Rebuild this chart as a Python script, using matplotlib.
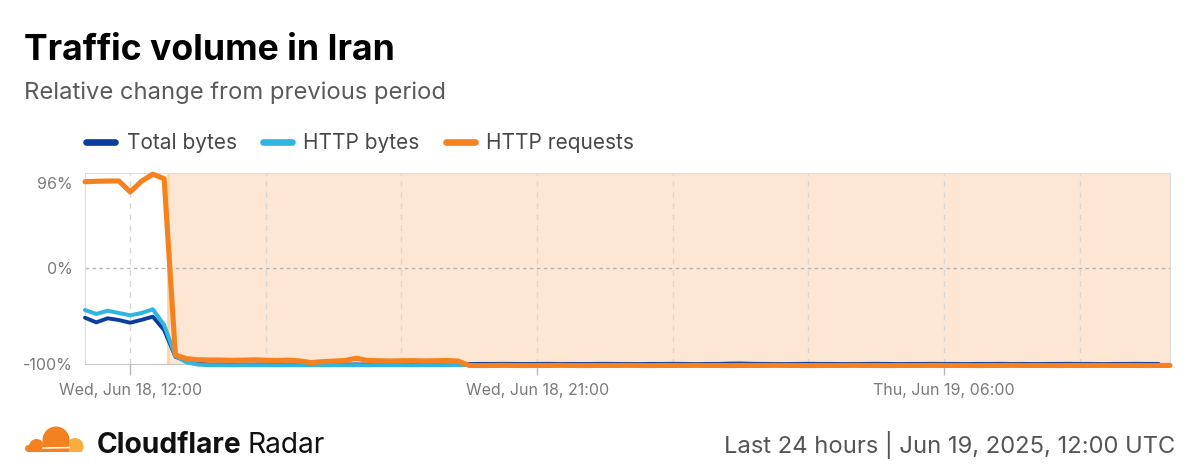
import numpy as np
import pandas as pd
import matplotlib
matplotlib.use('Agg')
import matplotlib.pyplot as plt
import matplotlib.dates as mdates
from matplotlib.patches import Circle, Rectangle

plt.rcParams['font.family'] = ['Inter', 'DejaVu Sans']

# 15 minute steps, Jun 18 11:00 -> Jun 19 11:00 UTC
times = pd.date_range('2025-06-18 11:00', periods=97, freq='15min')

http_requests = [
    97.5, 98.0, 98.3, 98.3, 86.0, 98.0, 106.0, 101.0, -90.6, -94.5,
    -95.6, -95.8, -95.9, -96.2, -96.0, -95.7, -96.1, -96.4, -96.0, -96.8,
    -98.6, -97.6, -97.0, -96.4, -94.0, -96.3, -96.6, -96.9, -96.6, -96.5,
    -96.8, -96.6, -96.4, -96.9, -101.5, -101.6, -101.5, -101.4, -101.5, -101.6,
    -101.5, -101.5, -101.4, -101.5, -101.6, -101.5, -101.5, -101.5, -101.4, -101.5,
    -101.6, -101.5, -101.5, -101.5, -101.4, -101.5, -101.5, -101.6, -101.5, -101.5,
    -101.5, -101.4, -101.5, -101.5, -101.6, -101.5, -101.5, -101.5, -101.4, -101.5,
    -101.5, -101.6, -101.5, -101.5, -101.5, -101.4, -101.5, -101.5, -101.5, -101.6,
    -101.5, -101.5, -101.4, -101.5, -101.5, -101.5, -101.6, -101.5, -101.5, -101.5,
    -101.4, -101.5, -101.5, -101.5, -101.6, -101.5, -101.5,
]
total_bytes = [
    -51.8, -56.6, -52.4, -54.2, -57.0, -54.0, -50.7, -64.6, -92.4, -97.0,
    -99.6, -100.6, -100.5, -100.6, -100.7, -100.6, -100.5, -100.6, -100.6, -100.7,
    -100.6, -100.5, -100.6, -100.6, -100.5, -100.6, -100.7, -100.6, -100.6, -100.5,
    -100.6, -100.6, -100.5, -100.4, -100.0, -99.9, -99.9, -99.8, -99.9, -100.0,
    -99.9, -99.8, -99.9, -99.9, -100.0, -99.9, -99.8, -99.9, -99.9, -100.0,
    -99.9, -99.9, -99.8, -99.9, -100.0, -99.9, -99.9, -99.6, -99.5, -99.8,
    -99.9, -99.9, -100.0, -99.9, -99.8, -99.9, -99.9, -100.0, -99.9, -99.9,
    -99.8, -99.9, -100.0, -99.9, -99.9, -99.8, -99.9, -99.9, -100.0, -99.9,
    -99.9, -99.8, -99.9, -99.9, -100.0, -99.9, -99.9, -99.8, -99.9, -99.9,
    -100.0, -99.9, -99.9, -99.8, -99.9, -99.9, np.nan,
]
http_bytes = [
    -43.8, -47.9, -44.5, -46.9, -49.3, -46.9, -43.0, -59.4, -91.7, -98.2,
    -100.6, -101.2, -101.2, -101.3, -101.2, -101.2, -101.2, -101.3, -101.2, -101.2,
    -101.2, -101.3, -101.2, -101.2, -101.2, -101.3, -101.2, -101.2, -101.2, -101.3,
    -101.2, -101.2, -101.1, -100.8, -101.2, -101.2, -101.3, -101.2, -101.2, -101.2,
    -101.3, -101.2, -101.2, -101.2, -101.3, -101.2, -101.2, -101.2, -101.3, -101.2,
    -101.2, -101.2, -101.3, -101.2, -101.2, -101.2, -101.3, -101.2, -101.2, -101.2,
    -101.3, -101.2, -101.2, -101.2, -101.3, -101.2, -101.2, -101.2, -101.3, -101.2,
    -101.2, -101.2, -101.3, -101.2, -101.2, -101.2, -101.3, -101.2, -101.2, -101.2,
    -101.3, -101.2, -101.2, -101.2, -101.3, -101.2, -101.2, -101.2, -101.3, -101.2,
    -101.2, -101.2, -101.3, -101.2, -101.2, -101.2, -101.2,
]

series_names = ['Total bytes', 'HTTP bytes', 'HTTP requests']
series_colors = ['#0a3d9e', '#2fb5e0', '#f6821f']

outage_start = pd.Timestamp('2025-06-18 12:50')

y_ticks = [-100, 0, 96]
y_labels = ['-100%', '0%', '96%']
x_ticks = [pd.Timestamp('2025-06-18 12:00'), pd.Timestamp('2025-06-18 21:00'),
           pd.Timestamp('2025-06-19 06:00')]
x_labels = ['Wed, Jun 18, 12:00', 'Wed, Jun 18, 21:00', 'Thu, Jun 19, 06:00']

# positive side of the axis is a bit compressed in the original
k = 0.922
def fwd(y):
    y = np.asarray(y, dtype=float)
    return np.where(y < 0, y, y * k)
def inv(y):
    y = np.asarray(y, dtype=float)
    return np.where(y < 0, y, y / k)

fig = plt.figure(figsize=(12, 4.76), dpi=100)
ax = fig.add_axes([85 / 1200, 1 - 364 / 476, (1170 - 85) / 1200, (364 - 172.7) / 476])
ax.set_yscale('function', functions=(fwd, inv))

ax.axvspan(outage_start, times[-1], color='#fde6d3', zorder=0, lw=0)
ax.axvline(outage_start, color='#fcd7a3', lw=2, zorder=1)

l_total, = ax.plot(times, total_bytes, color=series_colors[0], lw=2.8,
                   solid_capstyle='round', solid_joinstyle='round', zorder=5, clip_on=False)
l_http, = ax.plot(times, http_bytes, color=series_colors[1], lw=2.9,
                  solid_capstyle='round', solid_joinstyle='round', zorder=6, clip_on=False)
l_req, = ax.plot(times, http_requests, color=series_colors[2], lw=3.7,
                 solid_capstyle='round', solid_joinstyle='round', zorder=7, clip_on=False)

ax.set_xlim(times[0], times[-1])
ax.set_ylim(-100, 107.7)

ax.axhline(0, color='#b5b5b5', lw=1, ls=(0, (2.5, 2.5)), zorder=1)

ax.set_yticks(y_ticks)
ax.set_yticklabels(y_labels)
ax.yaxis.set_minor_locator(matplotlib.ticker.NullLocator())
ax.tick_params(axis='y', length=0, pad=9, labelsize=11.5, labelcolor='#7a7a7a')

ax.set_xticks(x_ticks)
ax.set_xticklabels(x_labels)
ax.xaxis.set_minor_locator(mdates.HourLocator(byhour=range(0, 24, 3)))
ax.tick_params(axis='x', which='major', length=8, width=1, color='#b8b8b8',
               pad=6, labelsize=11.5, labelcolor='#7a7a7a')
ax.tick_params(axis='x', which='minor', length=0)
ax.grid(axis='x', which='both', color='#d6d6d6', lw=1, ls=(0, (4, 4)), zorder=1)

for side in ['left', 'top', 'right']:
    ax.spines[side].set_color('#dcdcdc')
ax.spines['bottom'].set_color('#c4c4c4')

leg = ax.legend([l_total, l_http, l_req], series_names, loc='center left',
                bbox_to_anchor=(86 / 1200, 1 - 143 / 476), bbox_transform=fig.transFigure,
                ncol=3, frameon=False, fontsize=15, handlelength=1.4, handletextpad=0.55,
                columnspacing=1.25, borderpad=0, borderaxespad=0)
for h in leg.get_lines():
    h.set_linewidth(4.8)
    h.set_solid_capstyle('round')
for t in leg.get_texts():
    t.set_color('#474747')

fig.text(24 / 1200, 1 - 60 / 476, 'Traffic volume in Iran', fontsize=25.6,
         fontweight='bold', color='#000000', va='baseline')
fig.text(24 / 1200, 1 - 99 / 476, 'Relative change from previous period', fontsize=17.1,
         color='#5a5a5a', va='baseline')

# footer
fig.text(97 / 1200, 1 - 453 / 476, 'Cloudflare', fontsize=20.3, fontweight='bold',
         color='#111111', va='baseline')
fig.text(247 / 1200, 1 - 453 / 476, 'Radar', fontsize=20.3, color='#111111', va='baseline')
fig.text(1175 / 1200, 1 - 453 / 476, 'Last 24 hours | Jun 19, 2025, 12:00 UTC', fontsize=17.1,
         color='#555555', va='baseline', ha='right')

# logo
lax = fig.add_axes([24 / 1200, 1 - 452 / 476, 60 / 1200, 28 / 476])
lax.set_xlim(0, 60)
lax.set_ylim(0, 28)
lax.axis('off')
big = '#f48120'
small = '#faad3f'
lax.add_patch(Circle((51, 5.5), 8.5, color=small, lw=0))
lax.add_patch(Rectangle((40, 0), 11, 7, color=small, lw=0))
lax.add_patch(Circle((32, 12), 13.5, color=big, lw=0))
lax.add_patch(Circle((12.5, 5.5), 7.5, color=big, lw=0))
lax.add_patch(Circle((4.5, 3.5), 3.5, color=big, lw=0))
lax.add_patch(Rectangle((4.5, 0), 40, 7, color=big, lw=0))
lax.plot([19, 45], [4.0, 4.4], color='white', lw=1.1)

fig.savefig('out.png', dpi=100)
